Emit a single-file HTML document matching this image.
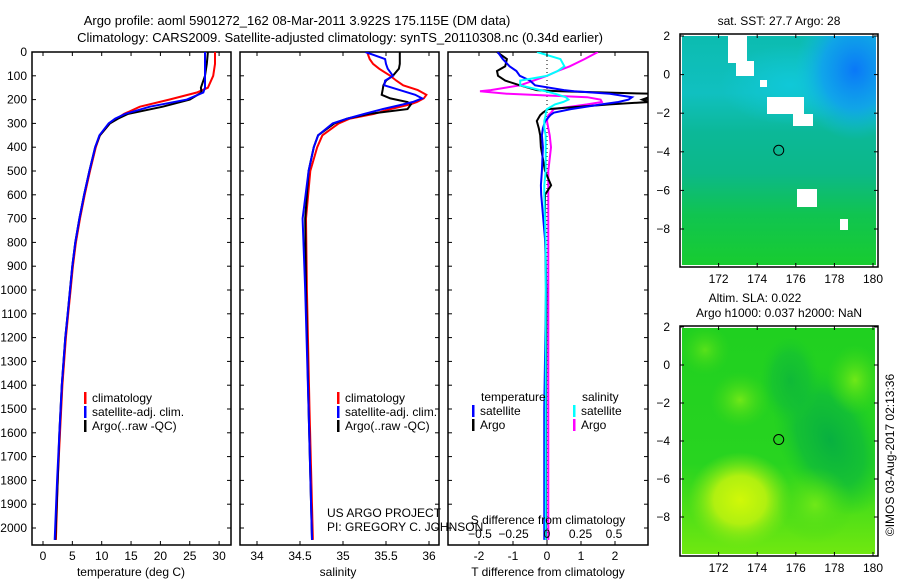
<!DOCTYPE html>
<html><head><meta charset="utf-8"><style>
body{margin:0;background:#fff;}
svg text{font-family:"Liberation Sans",sans-serif;fill:#000;}
</style></head><body>
<svg id="fig" width="900" height="580" xmlns="http://www.w3.org/2000/svg">
<defs>
<linearGradient id="g1" x1="0" y1="0" x2="0" y2="1">
<stop offset="0" stop-color="#0cbcb0"/><stop offset="0.25" stop-color="#10c0c0"/><stop offset="0.42" stop-color="#0cb898"/><stop offset="0.6" stop-color="#0cb888"/><stop offset="0.78" stop-color="#10c450"/><stop offset="1" stop-color="#18cc30"/>
</linearGradient>
<radialGradient id="b1" cx="0.5" cy="0.5" r="0.5"><stop offset="0" stop-color="#0a78f8"/><stop offset="0.55" stop-color="#10a0f0" stop-opacity="0.85"/><stop offset="1" stop-color="#10c0e0" stop-opacity="0"/></radialGradient>
<radialGradient id="c1g" cx="0.5" cy="0.5" r="0.5"><stop offset="0" stop-color="#10c8d8"/><stop offset="1" stop-color="#10c8d8" stop-opacity="0"/></radialGradient>
<linearGradient id="g2" x1="0" y1="0" x2="0" y2="1">
<stop offset="0" stop-color="#20d020"/><stop offset="0.6" stop-color="#28d420"/><stop offset="1" stop-color="#70e810"/>
</linearGradient>
<radialGradient id="d2" cx="0.5" cy="0.5" r="0.5"><stop offset="0" stop-color="#08b040"/><stop offset="0.6" stop-color="#10bc38" stop-opacity="0.8"/><stop offset="1" stop-color="#18c828" stop-opacity="0"/></radialGradient>
<radialGradient id="y2" cx="0.5" cy="0.5" r="0.5"><stop offset="0" stop-color="#d0f808"/><stop offset="0.5" stop-color="#b0f010"/><stop offset="1" stop-color="#80e818" stop-opacity="0"/></radialGradient>
<radialGradient id="l2" cx="0.5" cy="0.5" r="0.5"><stop offset="0" stop-color="#70e818"/><stop offset="1" stop-color="#40d818" stop-opacity="0"/></radialGradient>
<clipPath id="c1"><rect x="32" y="52" width="199" height="493"/></clipPath>
<clipPath id="c2"><rect x="240" y="52" width="199" height="493"/></clipPath>
<clipPath id="c3"><rect x="448" y="52" width="200" height="493"/></clipPath>
<clipPath id="m1"><rect x="682" y="36" width="194" height="229"/></clipPath>
<clipPath id="m2"><rect x="682" y="328" width="193" height="226"/></clipPath>
</defs>
<text x="297" y="25" font-size="13" text-anchor="middle">Argo profile: aoml 5901272_162 08-Mar-2011 3.922S 175.115E (DM data)</text>
<text x="340" y="42" font-size="13" text-anchor="middle">Climatology: CARS2009. Satellite-adjusted climatology: synTS_20110308.nc (0.34d earlier)</text>
<g id="maps"></g>
<g id="panels"></g>
<text transform="translate(894,455) rotate(-90)" font-size="12" text-anchor="middle">©IMOS 03-Aug-2017 02:13:36</text>
</svg>
<script>
// ---------- data ----------
const tDepths = [0,50,100,150,170,200,230,260,280,300,350,400,500,600,700,800,900,1000,1100,1200,1400,1600,1800,2050];
const tClim   = [29.3,29.3,29.0,28.1,26.2,21.5,16.5,13.8,12.6,11.4,9.7,9.0,8.0,7.1,6.3,5.6,5.1,4.7,4.3,3.9,3.3,2.9,2.5,2.2];
const tSat    = [27.6,27.6,27.6,27.6,27.3,24.5,18.2,14.0,12.3,11.2,9.6,8.9,7.9,7.0,6.2,5.5,5.0,4.6,4.2,3.8,3.2,2.8,2.4,2.0];
const tArgo   = [28.1,27.9,27.6,26.9,27.0,25.0,20.4,14.5,12.8,11.4,9.7,8.9,7.9,7.0,6.2,5.5,5.0,4.6,4.2,3.8,3.2,2.8,2.5,2.1];
const sDepths = [0,30,50,70,100,120,140,160,180,195,210,220,240,260,280,300,350,400,500,700,1000,1500,2050];
const sClim   = [35.28,35.31,35.35,35.42,35.55,35.62,35.70,35.87,35.97,35.94,35.86,35.78,35.55,35.36,35.08,34.95,34.76,34.70,34.62,34.57,34.58,34.61,34.65];
const sSat    = [35.26,35.49,35.50,35.52,35.58,35.49,35.48,35.66,35.84,35.92,35.81,35.70,35.46,35.25,35.05,34.88,34.71,34.66,34.60,34.53,34.56,34.60,34.64];
const sArgo   = [35.66,35.66,35.66,35.65,35.58,35.50,35.47,35.46,35.45,35.55,35.75,35.79,35.75,35.30,35.05,34.90,34.71,34.66,34.60,34.56,34.57,34.60,34.64];
const dDepths = [0,30,60,80,100,120,140,160,165,175,190,200,210,220,240,255,265,290,320,350,400,500,560,600,800,1000,1500,2050];
const dTSat   = [-1.45,-1.3,-1.1,-0.9,-0.8,-0.5,-0.35,0.5,0.8,1.85,2.5,2.4,2.1,1.6,0.7,0.2,0.1,-0.05,-0.12,-0.15,-0.12,-0.15,-0.18,-0.17,-0.05,-0.03,-0.08,-0.08];
const dTArgo  = [-1.47,-1.18,-1.23,-1.47,-1.44,-1.23,-0.8,-0.3,0.38,3.0,3.0,2.8,3.0,1.85,0.03,-0.12,-0.2,-0.3,-0.24,-0.2,-0.18,-0.06,0.12,-0.06,-0.05,-0.02,-0.03,-0.03];
const dSSat   = [-0.075,0.1,0.13,0.08,0.0,-0.2,-0.2,-0.05,-0.01,0.06,0.14,0.16,0.12,0.06,0.0,-0.01,-0.01,-0.02,-0.02,-0.01,-0.01,-0.01,-0.02,-0.02,-0.01,-0.01,-0.01,-0.01];
const dSArgo  = [0.38,0.28,0.17,0.08,0.0,-0.1,-0.2,-0.42,-0.5,-0.3,0.3,0.4,0.41,0.3,0.05,0.03,0.01,0.0,0.01,0.02,0.03,0.01,0.01,0.01,0.01,0.01,0.01,0.01];
const depthTicks = [0,100,200,300,400,500,600,700,800,900,1000,1100,1200,1300,1400,1500,1600,1700,1800,1900,2000];
const tempTicks = [0,5,10,15,20,25,30];
const salTicks = [34,34.5,35,35.5,36];
const tdTicks = [-2,-1,0,1,2];
const sdTicks = [-0.5,-0.25,0,0.25,0.5];
const lonTicks = [172,174,176,178,180];
const latTicks = [2,0,-2,-4,-6,-8];

// ---------- helpers ----------
const NS='http://www.w3.org/2000/svg';
const svg=document.getElementById('fig');
function mk(tag,attrs,parent){const e=document.createElementNS(NS,tag);for(const k in attrs)e.setAttribute(k,attrs[k]);(parent||svg).appendChild(e);return e;}
function txt(s,x,y,anchor,parent,size){const e=mk('text',{x:x,y:y,'font-size':size||12,'text-anchor':anchor||'start'},parent);e.textContent=s;return e;}
const yD = d => 52 + d*0.238;
const xT = v => 43 + v*5.87;
const xS = v => 257 + (v-34)*86;
const xTD = v => 547 + v*34;
const xSD = v => 547 + v*134;
const P=document.getElementById('panels');

function frame(x0,x1,name){
  const r=mk('rect',{x:x0,y:52,width:x1-x0,height:493,fill:'none',stroke:'#000','stroke-width':1.5},P);
  
  
  depthTicks.forEach(d=>{
    mk('line',{x1:x0,x2:x0+4,y1:yD(d),y2:yD(d),stroke:'#000'},P);
    mk('line',{x1:x1-4,x2:x1,y1:yD(d),y2:yD(d),stroke:'#000'},P);
  });
}
function series(xs,ds,xf,color,clip,name){
  const pts=xs.map((v,i)=>xf(v).toFixed(1)+','+yD(ds[i]).toFixed(1)).join(' ');
  const l=mk('polyline',{points:pts,fill:'none',stroke:color,'stroke-width':2,'clip-path':'url(#'+clip+')'},P);
  
  
}
function xticks(ticks,xf,labY,fmt,x0,x1){
  ticks.forEach(t=>{const x=xf(t);
    mk('line',{x1:x,x2:x,y1:545,y2:541,stroke:'#000'},P);
    mk('line',{x1:x,x2:x,y1:52,y2:56,stroke:'#000'},P);
    const e=txt(fmt?fmt(t):String(t),x,labY,'middle',P);
    
    
  });
}
// panel 1
frame(32,231,'temperature-panel');
depthTicks.forEach(d=>{const e=txt(String(d),27,yD(d)+4,'end',P);
  
  });
series(tClim,tDepths,xT,'#ff0000','c1','temp-climatology-line');
series(tArgo,tDepths,xT,'#000000','c1','temp-argo-line');
series(tSat,tDepths,xT,'#0000ff','c1','temp-satellite-line');
xticks(tempTicks,xT,560);
let e=txt('temperature (deg C)',131,576,'middle',P);

// panel 2
frame(240,439,'salinity-panel');
series(sClim,sDepths,xS,'#ff0000','c2','sal-climatology-line');
series(sArgo,sDepths,xS,'#000000','c2','sal-argo-line');
series(sSat,sDepths,xS,'#0000ff','c2','sal-satellite-line');
xticks(salTicks,xS,560);
e=txt('salinity',338,576,'middle',P);

// panel 3
frame(448,648,'difference-panel');
mk('line',{x1:547,x2:547,y1:52,y2:545,stroke:'#000','stroke-dasharray':'1,3'},P);
series(dSArgo,dDepths,xSD,'#ff00ff','c3','sal-diff-argo-line');
series(dTArgo,dDepths,xTD,'#000000','c3','temp-diff-argo-line');
series(dTSat,dDepths,xTD,'#0000ff','c3','temp-diff-satellite-line');
series(dSSat,dDepths,xSD,'#00ffff','c3','sal-diff-satellite-line');
xticks(tdTicks,xTD,560);
sdTicks.forEach(t=>{const e=txt(String(t).replace('-','−'),xSD(t),538,'middle',P);
  });
e=txt('S difference from climatology',548,524,'middle',P);

e=txt('T difference from climatology',548,576,'middle',P);

e=txt('US ARGO PROJECT',327,517,'start',P);

e=txt('PI: GREGORY C. JOHNSON',327,531,'start',P);

// legends
function legend(x,y,color,label){
  mk('rect',{x:x,y:y-10,width:2.5,height:12,fill:color},P);
  const e=txt(label,x+8,y,'start',P);
  
  
}
[[84,'#ff0000','climatology'],[84,'#0000ff','satellite-adj. clim.'],[84,'#000000','Argo(..raw -QC)']].forEach((l,i)=>legend(l[0],402+i*14,l[1],l[2]));
[[337,'#ff0000','climatology'],[337,'#0000ff','satellite-adj. clim.'],[337,'#000000','Argo(..raw -QC)']].forEach((l,i)=>legend(l[0],402+i*14,l[1],l[2]));
e=txt('temperature',481,401,'start',P);
e=txt('salinity',582,401,'start',P);
legend(472,415,'#0000ff','satellite');legend(472,429,'#000000','Argo');
legend(573,415,'#00ffff','satellite');legend(573,429,'#ff00ff','Argo');

// ---------- maps ----------
const M=document.getElementById('maps');
const xLon = lon => 680 + (lon-170)*19.3;
function mapAxes(top,bot,latY,name){
  const r=mk('rect',{x:680,y:top,width:198,height:bot-top,fill:'none',stroke:'#000','stroke-width':1.5},M);
  
  lonTicks.forEach(l=>{const x=xLon(l);
    mk('line',{x1:x,x2:x,y1:top,y2:top+4,stroke:'#000'},M);
    mk('line',{x1:x,x2:x,y1:bot,y2:bot-4,stroke:'#000'},M);
    const e=txt(String(l),x,bot+16,'middle',M);});
  latTicks.forEach(l=>{const y=latY(l);
    mk('line',{x1:680,x2:684,y1:y,y2:y,stroke:'#000'},M);
    mk('line',{x1:874,x2:878,y1:y,y2:y,stroke:'#000'},M);
    const e=txt(String(l).replace('-','−'),670,y+4,'end',M);});
}
// map 1 (SST)
const lat1 = l => 36 + (2-l)*19.3;
const g1=mk('g',{'clip-path':'url(#m1)'},M);

mk('rect',{x:682,y:36,width:194,height:229,fill:'url(#g1)'},g1);
mk('ellipse',{cx:790,cy:85,rx:70,ry:40,fill:'url(#c1g)'},g1);
mk('ellipse',{cx:855,cy:70,rx:60,ry:70,fill:'url(#b1)'},g1);
[[728,35,19,28],[736,61,18,15],[760,80,7,7],[767,97,37,17],[793,114,20,12],[797,189,20,18],[840,219,8,11]].forEach(p=>{
  const w=mk('rect',{x:p[0],y:p[1],width:p[2],height:p[3],fill:'#fff'},g1);
  });
mapAxes(34,267,lat1,'sst-map-frame');
let c=mk('circle',{cx:xLon(175.115),cy:lat1(-3.922),r:5,fill:'none',stroke:'#000'},M);

e=txt('sat. SST: 27.7 Argo: 28',779,25,'middle',M);
// map 2 (SLA)
const lat2 = l => 327 + (2-l)*19.0;
const g2=mk('g',{'clip-path':'url(#m2)'},M);

mk('rect',{x:682,y:328,width:193,height:226,fill:'url(#g2)'},g2);
mk('ellipse',{cx:830,cy:440,rx:50,ry:80,fill:'url(#d2)',transform:'rotate(-25 830 440)'},g2);
mk('ellipse',{cx:790,cy:380,rx:30,ry:45,fill:'url(#d2)',opacity:0.7},g2);
mk('ellipse',{cx:740,cy:500,rx:52,ry:48,fill:'url(#y2)'},g2);
mk('ellipse',{cx:815,cy:505,rx:38,ry:38,fill:'url(#l2)'},g2);
mk('ellipse',{cx:740,cy:400,rx:30,ry:28,fill:'url(#l2)'},g2);
mk('ellipse',{cx:855,cy:380,rx:28,ry:35,fill:'url(#l2)'},g2);
mk('ellipse',{cx:705,cy:350,rx:25,ry:25,fill:'url(#l2)',opacity:0.7},g2);
mapAxes(326,556,lat2,'sla-map-frame');
c=mk('circle',{cx:xLon(175.115),cy:lat2(-3.922),r:5,fill:'none',stroke:'#000'},M);

e=txt('Altim. SLA: 0.022',755,302,'middle',M);
e=txt('Argo h1000: 0.037 h2000: NaN',779,317,'middle',M);
</script>
</body></html>
